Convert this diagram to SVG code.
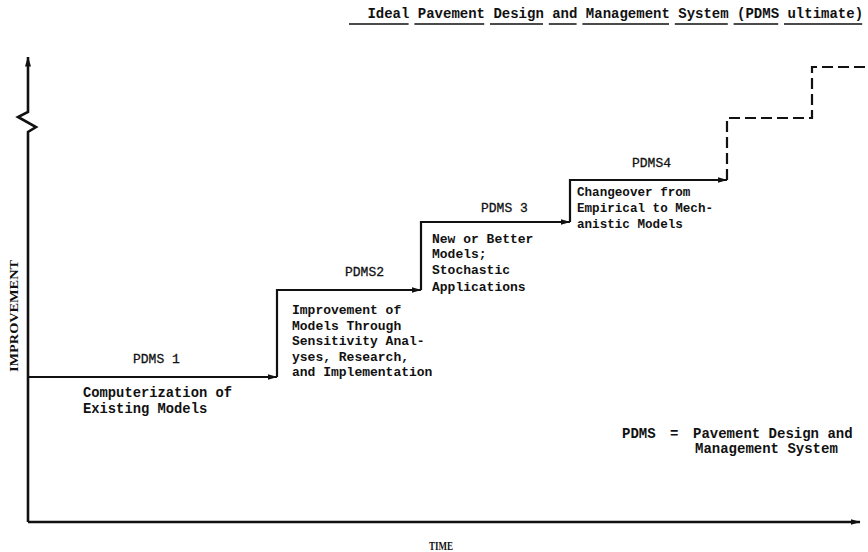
<svg xmlns="http://www.w3.org/2000/svg" width="868" height="552" viewBox="0 0 868 552">
  <style>
    text { font-family: "Liberation Mono", "DejaVu Sans Mono", monospace; fill: #111; }
    .title { font-size: 14px; font-weight: bold; }
    .body { font-size: 13px; font-weight: bold; }
    .narrow { font-size: 12.6px; font-weight: bold; }
    .heavy { font-size: 13.8px; font-weight: bold; }
    .legend { font-size: 14px; font-weight: bold; }
    .lbl { font-size: 13px; stroke: #111; stroke-width: 0.3; }
    .axlbl { font-family: "Liberation Serif", serif; font-weight: bold; }
    .axis { stroke: #111; stroke-width: 2.6; fill: none; }
    .step { stroke: #111; stroke-width: 2.2; fill: none; }
    .dash { stroke: #111; stroke-width: 2.2; fill: none; stroke-dasharray: 11 5; }
    .ul { stroke: #111; stroke-width: 1.3; fill: none; }
  </style>
  <defs>
    <marker id="arrow" markerWidth="10" markerHeight="8" refX="9.5" refY="4" orient="auto" markerUnits="userSpaceOnUse">
      <path d="M0,1 L10,4 L0,7 z" fill="#111"/>
    </marker>
  </defs>

  <rect width="868" height="552" fill="#fff"/>

  <!-- heading with word-by-word underscores -->
  <g id="title">
    <text class="title" x="367.4" y="18">Ideal Pavement Design and Management System (PDMS ultimate)</text>
    <path class="ul" d="M349,24 H408.6 M414.4,24 H484.2 M490,24 H543 M548.8,24 H576.6 M582.4,24 H669 M674.8,24 H727.8 M733.6,24 H778.2 M784,24 H862.2"/>
  </g>

  <!-- axes -->
  <g id="axes">
    <path class="axis" d="M28,522 L28,132 L36,127 L18,117 L28,112 L28,57" marker-end="url(#arrow)"/>
    <path class="axis" d="M28,522 L860,522" marker-end="url(#arrow)"/>
    <text class="axlbl" font-size="12.5" transform="translate(17.5,316) rotate(-90)" text-anchor="middle" textLength="112" lengthAdjust="spacingAndGlyphs">IMPROVEMENT</text>
    <text class="axlbl" font-size="12" x="441" y="550" text-anchor="middle" textLength="24" lengthAdjust="spacingAndGlyphs">TIME</text>
  </g>

  <!-- staircase of system stages -->
  <g id="connectors">
    <path class="step" d="M28,377 L277,377" marker-end="url(#arrow)"/>
    <path class="step" d="M277,377 L277,290 L421,290" marker-end="url(#arrow)"/>
    <path class="step" d="M421,290 L421,222 L570,222" marker-end="url(#arrow)"/>
    <path class="step" d="M570,222 L570,180 L727,180" marker-end="url(#arrow)"/>
    <path class="dash" d="M727,180 L727,118 L812,118 L812,67 L868,67"/>
  </g>

  <g id="pdms1">
    <text class="lbl" x="133" y="363">PDMS 1</text>
    <text class="heavy" x="83" y="397">Computerization of</text>
    <text class="heavy" x="83" y="413">Existing Models</text>
  </g>

  <g id="pdms2">
    <text class="lbl" x="345" y="276">PDMS2</text>
    <text class="body" x="292" y="314">Improvement of</text>
    <text class="body" x="292" y="329.5">Models Through</text>
    <text class="body" x="292" y="345">Sensitivity Anal-</text>
    <text class="body" x="292" y="360.5">yses, Research,</text>
    <text class="body" x="292" y="376">and Implementation</text>
  </g>

  <g id="pdms3">
    <text class="lbl" x="481" y="212">PDMS 3</text>
    <text class="body" x="432" y="243">New or Better</text>
    <text class="body" x="432" y="258">Models;</text>
    <text class="body" x="432" y="274">Stochastic</text>
    <text class="body" x="432" y="291">Applications</text>
  </g>

  <g id="pdms4">
    <text class="lbl" x="632" y="167">PDMS4</text>
    <text class="narrow" x="577" y="196">Changeover from</text>
    <text class="narrow" x="577" y="212">Empirical to Mech-</text>
    <text class="narrow" x="577" y="228">anistic Models</text>
  </g>

  <g id="legend">
    <text class="legend" x="622" y="438">PDMS</text>
    <text class="legend" x="670" y="438">=</text>
    <text class="legend" x="693" y="438">Pavement Design and</text>
    <text class="legend" x="695" y="453">Management System</text>
  </g>
</svg>
